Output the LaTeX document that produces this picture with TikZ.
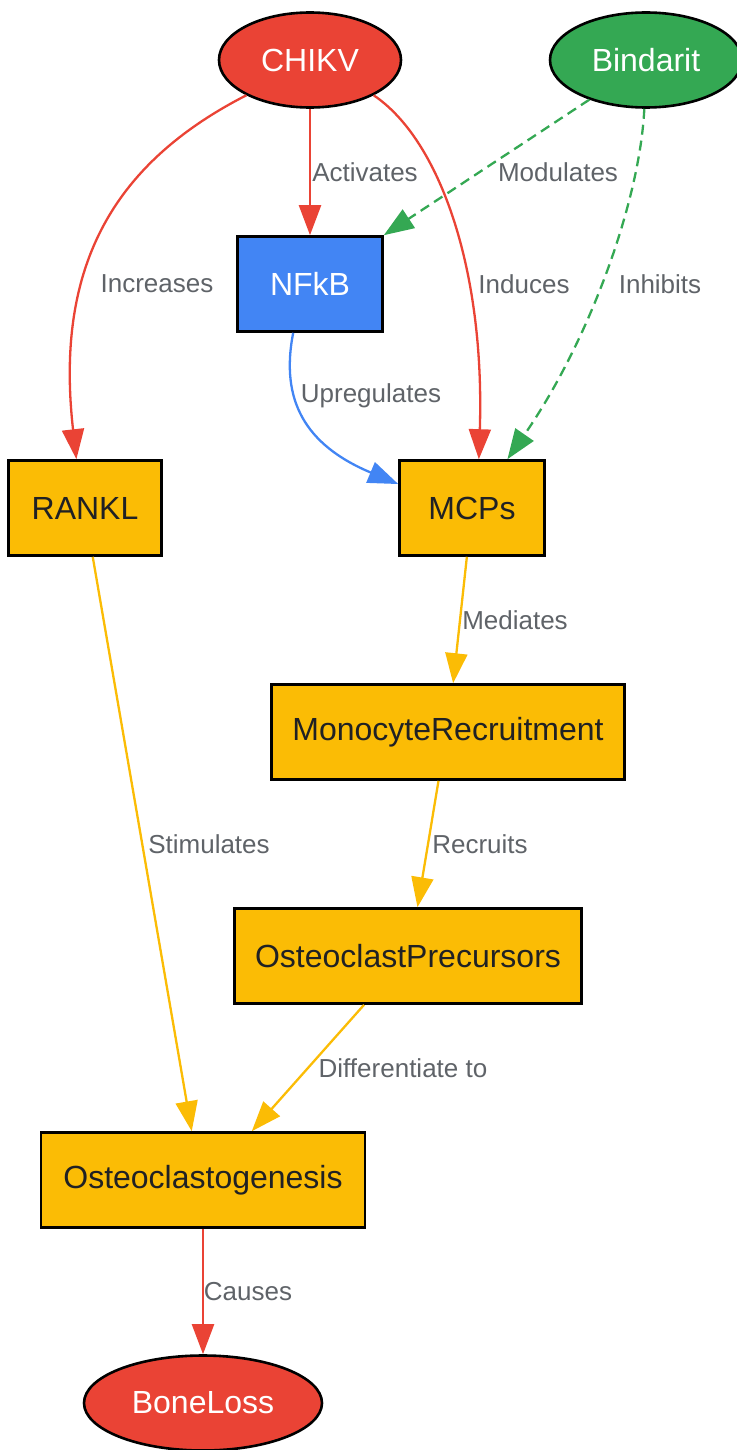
\documentclass[tikz,border=0pt]{standalone}
\usepackage{fontspec}
\setmainfont{Liberation Sans}
\usetikzlibrary{shapes.geometric,arrows.meta}

\definecolor{gred}{HTML}{EA4335}
\definecolor{ggreen}{HTML}{34A853}
\definecolor{gblue}{HTML}{4285F4}
\definecolor{gyellow}{HTML}{FBBC05}
\definecolor{gdark}{HTML}{202124}
\definecolor{ggray}{HTML}{5F6368}

\tikzset{
  box/.style={draw, line width=1.3pt, minimum height=47.5pt, inner sep=0pt,
    font=\fontsize{16}{19}\selectfont},
  yelbox/.style={box, fill=gyellow, text=gdark},
  oval/.style={ellipse, draw, line width=1.3pt, minimum height=47.5pt, inner sep=0pt,
    text=white, font=\fontsize{16}{19}\selectfont},
  lbl/.style={text=ggray, inner sep=0pt, font=\fontsize{13}{15}\selectfont},
  link/.style={line width=1.15pt, -{Triangle[length=15pt,width=11pt]}},
  dlink/.style={link, dash pattern=on 5pt off 3pt},
}

\begin{document}
\begin{tikzpicture}[x=0.5pt,y=-0.5pt]
  \useasboundingbox (0,0) rectangle (737,1450);

  % nodes
  \node [oval, fill=gred, minimum width=91pt] (CHIKV) at (310,60) {CHIKV};
  \node [oval, fill=ggreen, minimum width=96pt] (Bindarit) at (646,60) {Bindarit};
  \node [box, fill=gblue, text=white, minimum width=72.5pt] (NFkB) at (310,284) {NFkB};
  \node [yelbox, minimum width=76.5pt] (RANKL) at (85,508) {RANKL};
  \node [yelbox, minimum width=72.5pt] (MCPs) at (472,508) {MCPs};
  \node [yelbox, minimum width=176.5pt] (MonocyteRecruitment) at (448,732) {MonocyteRecruitment};
  \node [yelbox, minimum width=173.5pt] (OsteoclastPrecursors) at (408,956) {OsteoclastPrecursors};
  \node [yelbox, minimum width=162pt] (Osteoclastogenesis) at (203,1180) {Osteoclastogenesis};
  \node [oval, fill=gred, minimum width=119pt] (BoneLoss) at (203,1403) {BoneLoss};

  % edges
  \draw [link, gred] (CHIKV.south) -- (NFkB.north);
    \node [lbl] (lActivates) at (365,172) {Activates};
  \draw [link, gred] (CHIKV.209) .. controls (110,165) and (55,270) .. (RANKL.100);
    \node [lbl] (lIncreases) at (157,284) {Increases};
  \draw [link, gred] (CHIKV.-29) .. controls (440,140) and (485,270) .. (MCPs.82);
    \node [lbl] (lInduces) at (524,284) {Induces};
  \draw [dlink, ggreen] (Bindarit.215) -- (NFkB.north east);
    \node [lbl] (lModulates) at (558,172) {Modulates};
  \draw [dlink, ggreen] (Bindarit.268) .. controls (640,200) and (590,340) .. (MCPs.54);
    \node [lbl] (lInhibits) at (660,284) {Inhibits};
  \draw [link, gblue] (NFkB.251) .. controls (280,400) and (305,445) .. (MCPs.162);
    \node [lbl] (lUpregulates) at (371,396) {Upregulates};
  \draw [link, gyellow] (MCPs.264) -- (MonocyteRecruitment.84);
    \node [lbl] (lMediates) at (515,620) {Mediates};
  \draw [link, gyellow] (MonocyteRecruitment.259) -- (OsteoclastPrecursors.79);
    \node [lbl] (lRecruits) at (480,844) {Recruits};
  \draw [link, gyellow] (RANKL.279) -- (Osteoclastogenesis.103);
    \node [lbl] (lStimulates) at (209,844) {Stimulates};
  \draw [link, gyellow] (OsteoclastPrecursors.228) -- (Osteoclastogenesis.45.6);
    \node [lbl] (lDifferentiate) at (403,1068) {Differentiate to};
  \draw [link, gred] (Osteoclastogenesis.south) -- (BoneLoss.north);
    \node [lbl] (lCauses) at (248,1292) {Causes};
\end{tikzpicture}
\end{document}
